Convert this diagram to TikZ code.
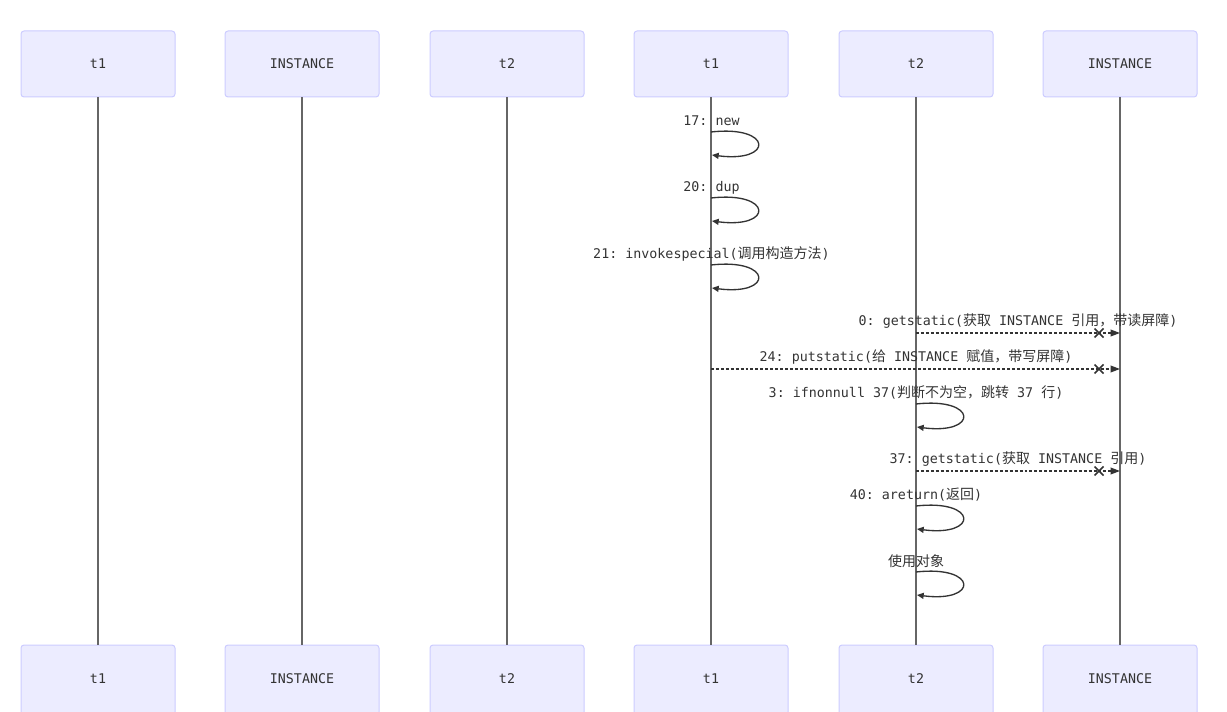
\documentclass[tikz,border=0pt]{standalone}
\usepackage{fontspec}
\setmainfont{DejaVu Sans Mono}
\newfontfamily\cjkfont[Scale=1.05]{Noto Sans CJK SC}
\newcommand{\zh}[1]{{\cjkfont #1}}
\frenchspacing
\usetikzlibrary{arrows.meta}
\definecolor{boxfill}{HTML}{ECECFF}
\definecolor{boxdraw}{HTML}{CCCCFF}
\definecolor{txt}{HTML}{333333}
\definecolor{lifel}{HTML}{666666}
\tikzset{
  actor/.style={draw=boxdraw, fill=boxfill, rounded corners=2.25pt, line width=0.75pt,
    minimum width=115.5pt, minimum height=49.5pt, inner sep=0pt, text=txt,
    font=\fontsize{10}{12}\selectfont},
  actorbot/.style={actor, minimum height=52.5pt},
  lifeline/.style={draw=lifel, line width=1pt},
  selfmsg/.style={draw=txt, line width=1pt, -{Triangle[length=5pt,width=4.5pt]}},
  asyncmsg/.style={draw=txt, line width=1pt, dash pattern=on 2.2pt off 1.5pt, -{Triangle[length=7pt,width=5pt]}},
  crossmark/.style={draw=txt, line width=1.1pt},
  lbl/.style={inner sep=0pt, text=txt, font=\fontsize{10}{12}\selectfont}
}
\begin{document}
\begin{tikzpicture}[x=0.75pt,y=-0.75pt]
\useasboundingbox (0,0) rectangle (1227,712);
% actors
\node[actor] (A1) at (98,64) {t1};
\node[actor] (A2) at (302,64) {INSTANCE};
\node[actor] (A3) at (507,64) {t2};
\node[actor] (A4) at (711,64) {t1};
\node[actor] (A5) at (916,64) {t2};
\node[actor] (A6) at (1120,64) {INSTANCE};
\node[actorbot] (B1) at (98,680) {\raisebox{2pt}{t1}};
\node[actorbot] (B2) at (302,680) {\raisebox{2pt}{INSTANCE}};
\node[actorbot] (B3) at (507,680) {\raisebox{2pt}{t2}};
\node[actorbot] (B4) at (711,680) {\raisebox{2pt}{t1}};
\node[actorbot] (B5) at (916,680) {\raisebox{2pt}{t2}};
\node[actorbot] (B6) at (1120,680) {\raisebox{2pt}{INSTANCE}};
% lifelines
\foreach \i in {1,...,6} { \draw[lifeline] (A\i.south) -- (B\i.north); }
% self messages on t1
\coordinate (s1a) at (711,132); \coordinate (s1b) at (712,155);
\coordinate (s2a) at (711,198); \coordinate (s2b) at (712,221);
\coordinate (s3a) at (711,265); \coordinate (s3b) at (712,288);
\node[lbl] (L1) at (711.5,121) {17: new};
\node[lbl] (L2) at (711.5,188) {20: dup};
\node[lbl] (L3) at (711.5,254) {21: invokespecial(\zh{调用构造方法})};
\draw[selfmsg] (s1a) .. controls +(62,-7) and +(62,8) .. (s1b);
\draw[selfmsg] (s2a) .. controls +(62,-7) and +(62,8) .. (s2b);
\draw[selfmsg] (s3a) .. controls +(62,-7) and +(62,8) .. (s3b);
% async messages
\coordinate (g1a) at (916,333); \coordinate (g1b) at (1120,333); \coordinate (x1) at (1099,333);
\coordinate (p1a) at (711,369); \coordinate (p1b) at (1120,369); \coordinate (x2) at (1099,369);
\coordinate (g2a) at (916,471); \coordinate (g2b) at (1120,471); \coordinate (x3) at (1099,471);
\node[lbl] (L4) at (1018,321) {0: getstatic(\zh{获取} INSTANCE \zh{引用，带读屏障})};
\node[lbl] (L5) at (916,357) {24: putstatic(\zh{给} INSTANCE \zh{赋值，带写屏障})};
\node[lbl] (L7) at (1018,459) {37: getstatic(\zh{获取} INSTANCE \zh{引用})};
\draw[asyncmsg] (g1a) -- (g1b);
\draw[asyncmsg] (p1a) -- (p1b);
\draw[asyncmsg] (g2a) -- (g2b);
\foreach \c in {x1,x2,x3} {
  \draw[crossmark] (\c) +(-4.5,-4.5) -- +(4.5,4.5);
  \draw[crossmark] (\c) +(-4.5,4.5) -- +(4.5,-4.5);
}
% self messages on t2
\coordinate (s4a) at (916,404); \coordinate (s4b) at (917,427);
\coordinate (s5a) at (916,506); \coordinate (s5b) at (917,529);
\coordinate (s6a) at (916,572); \coordinate (s6b) at (917,595);
\node[lbl] (L6) at (916,392) {3: ifnonnull 37(\zh{判断不为空，跳转} 37 \zh{行})};
\node[lbl] (L8) at (916,495) {40: areturn(\zh{返回})};
\node[lbl] (L9) at (916,561) {\zh{使用对象}};
\draw[selfmsg] (s4a) .. controls +(62,-7) and +(62,8) .. (s4b);
\draw[selfmsg] (s5a) .. controls +(62,-7) and +(62,8) .. (s5b);
\draw[selfmsg] (s6a) .. controls +(62,-7) and +(62,8) .. (s6b);
\end{tikzpicture}
\end{document}
